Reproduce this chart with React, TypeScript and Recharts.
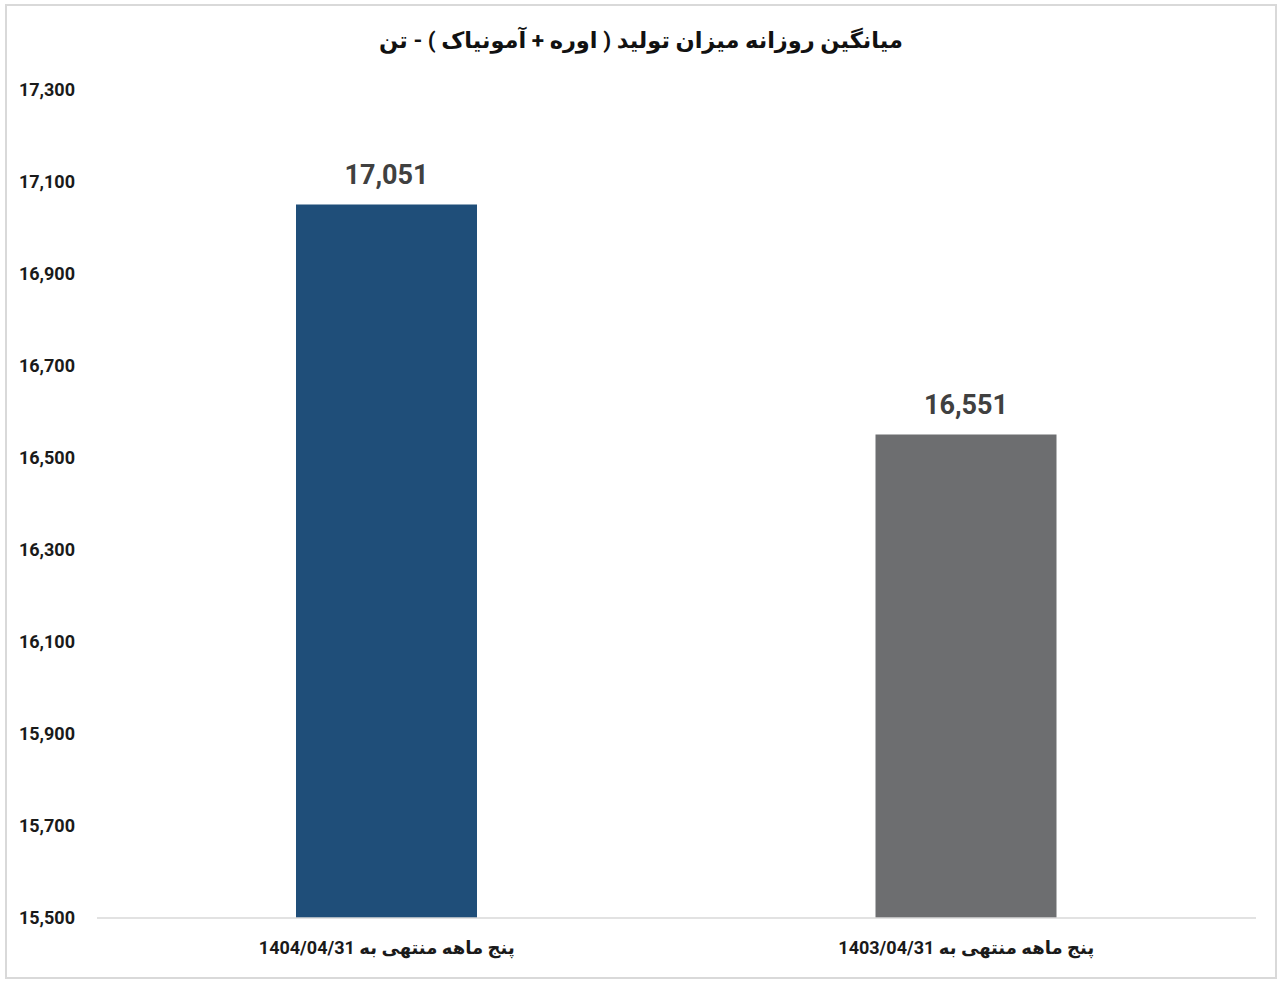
import React from 'react';
import { BarChart, Bar, XAxis, YAxis, Cell, LabelList } from 'recharts';

const categories = ['پنج ماهه منتهی به 1404/04/31', 'پنج ماهه منتهی به 1403/04/31'];
const production = [17051, 16551];
const yTicks = [15500, 15700, 15900, 16100, 16300, 16500, 16700, 16900, 17100, 17300];
const COLORS = ['#1F4E79', '#6D6E70'];

const data = categories.map((name, i) => ({ name, value: production[i] }));

const FONT = "Roboto, 'DejaVu Sans', sans-serif";

function CategoryTick(props: any) {
  const { x, y, payload } = props;
  return (
    <text
      x={x}
      y={y}
      dy="0.71em"
      textAnchor="middle"
      direction="rtl"
      fontFamily={FONT}
      fontSize={18}
      fontWeight={700}
      fill="#1a1a1a"
    >
      {payload.value}
    </text>
  );
}

export default function App() {
  return (
    <div style={{ position: 'absolute', left: 0, top: 0, width: 1280, height: 982, background: '#fff', fontFamily: FONT }}>
      <div
        style={{
          position: 'absolute',
          left: 5,
          top: 4,
          width: 1268,
          height: 971,
          border: '2px solid #d9d9d9',
        }}
      />
      <div
        dir="rtl"
        style={{
          position: 'absolute',
          top: 27,
          left: 0,
          width: 1282,
          textAlign: 'center',
          fontSize: 22.5,
          fontWeight: 700,
          color: '#111',
        }}
      >
        میانگین روزانه میزان تولید ( اوره + آمونیاک ) - تن
      </div>
      <div style={{ position: 'absolute', left: 0, top: 0 }}>
        <BarChart
          width={1280}
          height={982}
          data={data}
          margin={{ top: 90, right: 24, bottom: 34, left: 0 }}
        >
          <XAxis
            dataKey="name"
            axisLine={{ stroke: '#d9d9d9', strokeWidth: 1.5 }}
            tickLine={false}
            tickSize={0}
            tickMargin={23}
            tick={<CategoryTick />}
            interval={0}
          />
          <YAxis
            width={97}
            domain={[15500, 17300]}
            ticks={yTicks}
            axisLine={false}
            tickLine={false}
            tickSize={0}
            tickMargin={22}
            allowDataOverflow
            tickFormatter={(v: number) => v.toLocaleString('en-US')}
            tick={{ fontFamily: FONT, fontSize: 18, fontWeight: 700, fill: '#1a1a1a' }}
          />
          <Bar dataKey="value" barSize={181} isAnimationActive={false}>
            {data.map((entry, index) => (
              <Cell key={`cell-${index}`} fill={COLORS[index % COLORS.length]} />
            ))}
            <LabelList
              dataKey="value"
              position="top"
              offset={21}
              formatter={(v: any) => Number(v).toLocaleString('en-US')}
              style={{ fontFamily: FONT, fontSize: 27, fontWeight: 700, fill: '#404040' }}
            />
          </Bar>
        </BarChart>
      </div>
    </div>
  );
}
